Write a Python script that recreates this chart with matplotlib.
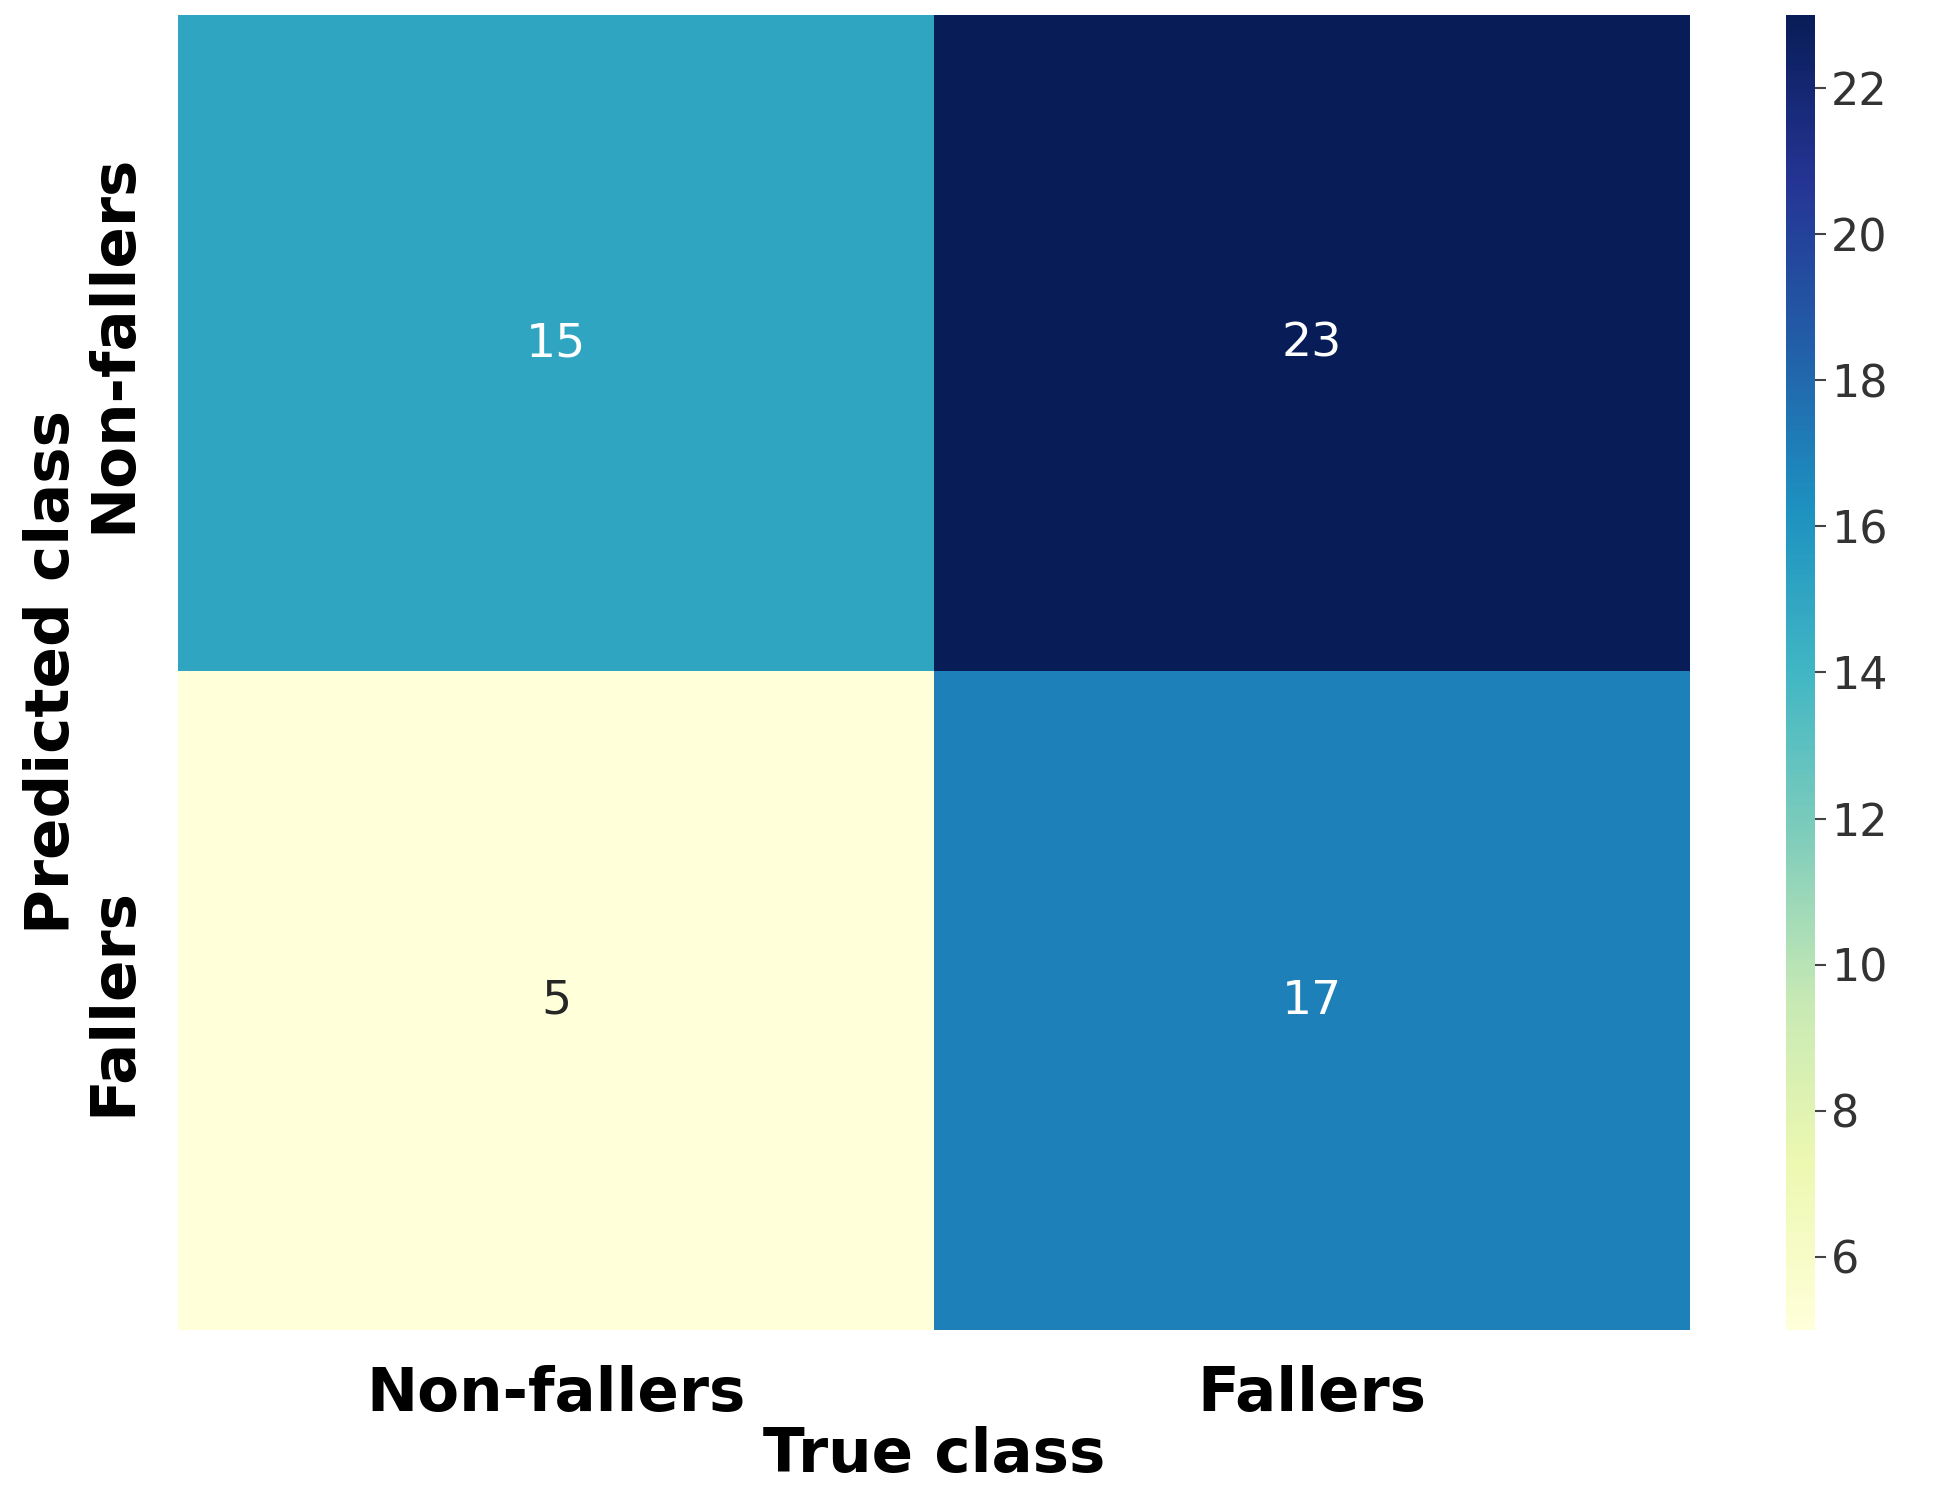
"""Confusion matrix heatmap, fallers vs non-fallers."""

import matplotlib

matplotlib.use("Agg")
import matplotlib.pyplot as plt  # noqa: E402
import numpy as np  # noqa: E402

CLASS_LABELS = ["Non-fallers", "Fallers"]
# rows = predicted class, columns = true class
COUNTS = [[15, 23],
          [5, 17]]

M = np.asarray(COUNTS, float)
fig = plt.figure(figsize=(19.6, 14.96), dpi=100)
ax = fig.add_axes([0.091, 0.111, 0.771, 0.879])
cax = fig.add_axes([0.911, 0.111, 0.015, 0.879])

im = ax.imshow(M, cmap="YlGnBu", aspect="auto", vmin=M.min(), vmax=M.max())
mid = (M.max() + M.min()) / 2
for i in range(M.shape[0]):
    for j in range(M.shape[1]):
        v = M[i, j]
        ax.text(j, i, f"{int(v)}", ha="center", va="center", fontsize=34,
                color="white" if v > mid else "#262626")

ax.set_xticks(range(len(CLASS_LABELS)))
ax.set_xticklabels(CLASS_LABELS, fontsize=44, fontweight="bold")
ax.set_yticks(range(len(CLASS_LABELS)))
ax.set_yticklabels(CLASS_LABELS, fontsize=44, fontweight="bold",
                   rotation=90, va="center")
ax.tick_params(length=0, pad=25)
ax.set_xlabel("True class", fontsize=44, fontweight="bold", labelpad=2)
ax.set_ylabel("Predicted class", fontsize=44, fontweight="bold", labelpad=2)
for s in ax.spines.values():
    s.set_visible(False)

cb = fig.colorbar(im, cax=cax)
cb.set_ticks([6, 8, 10, 12, 14, 16, 18, 20, 22])
cb.ax.tick_params(labelsize=32, length=8, width=1.5, color="#444444",
                  labelcolor="#333333")
cb.outline.set_visible(False)

fig.savefig("out.png", dpi=100)
plt.close(fig)
